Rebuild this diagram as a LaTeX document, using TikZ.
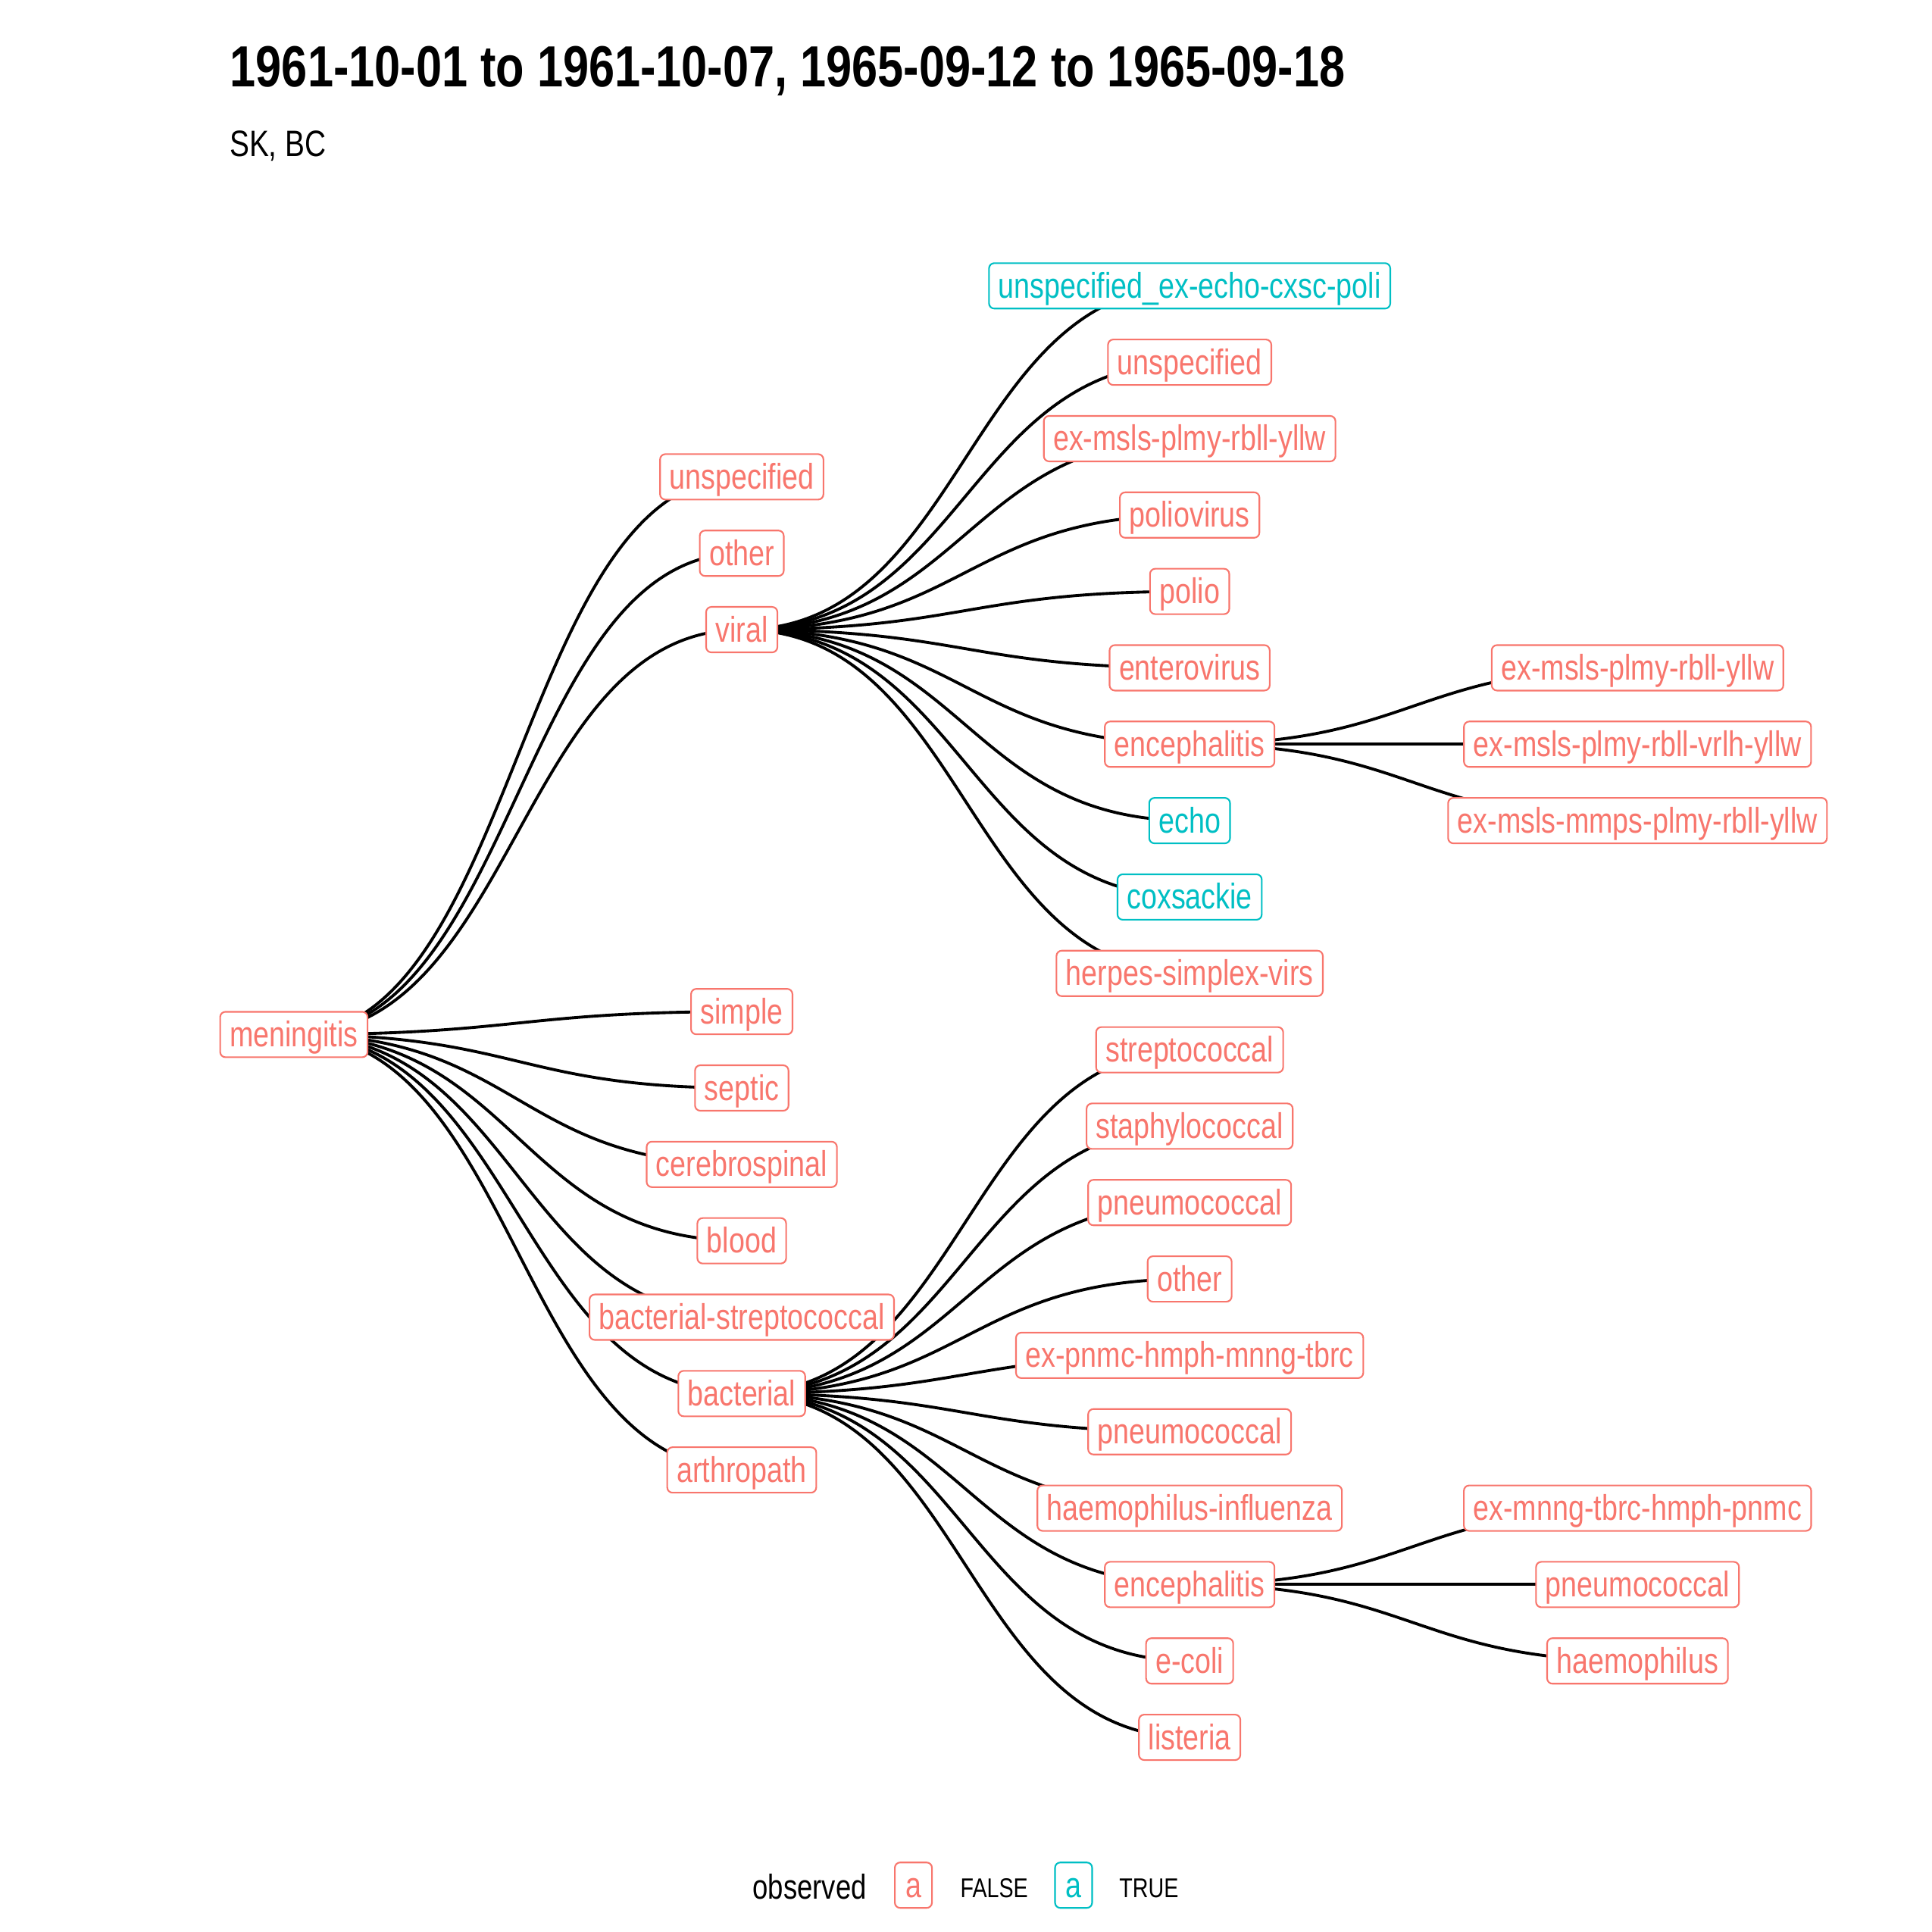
\documentclass[tikz,border=0pt]{standalone}
\usepackage{fontspec}
\setmainfont{Liberation Sans}[FakeStretch=0.8]
\usetikzlibrary{backgrounds}
\definecolor{falsecol}{HTML}{F8766D}
\definecolor{truecol}{HTML}{00BFC4}

\begin{document}
\begin{tikzpicture}[x=0.016263cm, y=-0.016263cm]

\tikzstyle{every node}=[font=\fontsize{13.4}{16}\selectfont]
\tikzstyle{lab}=[draw, fill=white, rounded corners=0.07cm, line width=0.6pt, inner xsep=0.125cm, inner ysep=0.12cm, text height=0.34cm, text depth=0.02cm]
\tikzstyle{falsebox}=[lab, draw=falsecol, text=falsecol]
\tikzstyle{truebox}=[lab, draw=truecol, text=truecol]
\tikzstyle{edge}=[line width=1.1pt, black]
\tikzstyle{plain}=[anchor=base west, inner sep=0pt]

\useasboundingbox (0,0) rectangle (1568,1568);

\node[plain, font=\fontsize{21.8}{26}\selectfont\bfseries] (title) at (186.4,70.7) {1961-10-01 to 1961-10-07, 1965-09-12 to 1965-09-18};
\node[plain, font=\fontsize{13.8}{16}\selectfont] (subtitle) at (186,127.1) {SK, BC};

\pgfmathsetmacro\xa{238.5}
\pgfmathsetmacro\xb{602}
\pgfmathsetmacro\xc{965.5}
\pgfmathsetmacro\xd{1329}

% root
\node[falsebox] (meningitis) at (\xa, 839.6) {meningitis};

% second level
\pgfmathsetmacro\y{387}
\node[falsebox] (unspecified) at (\xb, \y) {unspecified};
\pgfmathsetmacro\y{\y+62}
\node[falsebox] (other) at (\xb, \y) {other};
\pgfmathsetmacro\y{\y+62}
\node[falsebox] (viral) at (\xb, \y) {viral};

\pgfmathsetmacro\y{821}
\node[falsebox] (simple) at (\xb, \y) {simple};
\pgfmathsetmacro\y{\y+62}
\node[falsebox] (septic) at (\xb, \y) {septic};
\pgfmathsetmacro\y{\y+62}
\node[falsebox] (cerebrospinal) at (\xb, \y) {cerebrospinal};
\pgfmathsetmacro\y{\y+62}
\node[falsebox] (blood) at (\xb, \y) {blood};
\pgfmathsetmacro\y{\y+62}
\node[falsebox] (bact_strep) at (\xb, \y) {bacterial-streptococcal};
\pgfmathsetmacro\y{\y+62}
\node[falsebox] (bacterial) at (\xb, \y) {bacterial};
\pgfmathsetmacro\y{\y+62}
\node[falsebox] (arthropath) at (\xb, \y) {arthropath};

% third level, viral
\pgfmathsetmacro\y{232}
\node[truebox] (v_unspec_ex) at (\xc, \y) {unspecified\_ex-echo-cxsc-poli};
\pgfmathsetmacro\y{\y+62}
\node[falsebox] (v_unspec) at (\xc, \y) {unspecified};
\pgfmathsetmacro\y{\y+62}
\node[falsebox] (v_exmsls) at (\xc, \y) {ex-msls-plmy-rbll-yllw};
\pgfmathsetmacro\y{\y+62}
\node[falsebox] (v_poliovirus) at (\xc, \y) {poliovirus};
\pgfmathsetmacro\y{\y+62}
\node[falsebox] (v_polio) at (\xc, \y) {polio};
\pgfmathsetmacro\y{\y+62}
\node[falsebox] (v_entero) at (\xc, \y) {enterovirus};
\pgfmathsetmacro\y{\y+62}
\node[falsebox] (v_enceph) at (\xc, \y) {encephalitis};
\pgfmathsetmacro\y{\y+62}
\node[truebox] (v_echo) at (\xc, \y) {echo};
\pgfmathsetmacro\y{\y+62}
\node[truebox] (v_coxsackie) at (\xc, \y) {coxsackie};
\pgfmathsetmacro\y{\y+62}
\node[falsebox] (v_herpes) at (\xc, \y) {herpes-simplex-virs};

% third level, bacterial
\pgfmathsetmacro\y{\y+62}
\node[falsebox] (b_strep) at (\xc, \y) {streptococcal};
\pgfmathsetmacro\y{\y+62}
\node[falsebox] (b_staph) at (\xc, \y) {staphylococcal};
\pgfmathsetmacro\y{\y+62}
\node[falsebox] (b_pneumo1) at (\xc, \y) {pneumococcal};
\pgfmathsetmacro\y{\y+62}
\node[falsebox] (b_other) at (\xc, \y) {other};
\pgfmathsetmacro\y{\y+62}
\node[falsebox] (b_expnmc) at (\xc, \y) {ex-pnmc-hmph-mnng-tbrc};
\pgfmathsetmacro\y{\y+62}
\node[falsebox] (b_pneumo2) at (\xc, \y) {pneumococcal};
\pgfmathsetmacro\y{\y+62}
\node[falsebox] (b_haemo_inf) at (\xc, \y) {haemophilus-influenza};
\pgfmathsetmacro\y{\y+62}
\node[falsebox] (b_enceph) at (\xc, \y) {encephalitis};
\pgfmathsetmacro\y{\y+62}
\node[falsebox] (b_ecoli) at (\xc, \y) {e-coli};
\pgfmathsetmacro\y{\y+62}
\node[falsebox] (b_listeria) at (\xc, \y) {listeria};

% fourth level
\node[falsebox] (ve_plmy) at (\xd, 542) {ex-msls-plmy-rbll-yllw};
\node[falsebox] (ve_vrlh) at (\xd, 604) {ex-msls-plmy-rbll-vrlh-yllw};
\node[falsebox] (ve_mmps) at (\xd, 666) {ex-msls-mmps-plmy-rbll-yllw};

\node[falsebox] (be_mnng) at (\xd, 1224) {ex-mnng-tbrc-hmph-pnmc};
\node[falsebox] (be_pneumo) at (\xd, 1286) {pneumococcal};
\node[falsebox] (be_haemo) at (\xd, 1348) {haemophilus};

\begin{scope}[on background layer]
\draw[edge] (meningitis.center) .. controls +(181.75,0) and +(-181.75,0) .. (unspecified.center);
\draw[edge] (meningitis.center) .. controls +(181.75,0) and +(-181.75,0) .. (other.center);
\draw[edge] (meningitis.center) .. controls +(181.75,0) and +(-181.75,0) .. (viral.center);
\draw[edge] (meningitis.center) .. controls +(181.75,0) and +(-181.75,0) .. (simple.center);
\draw[edge] (meningitis.center) .. controls +(181.75,0) and +(-181.75,0) .. (septic.center);
\draw[edge] (meningitis.center) .. controls +(181.75,0) and +(-181.75,0) .. (cerebrospinal.center);
\draw[edge] (meningitis.center) .. controls +(181.75,0) and +(-181.75,0) .. (blood.center);
\draw[edge] (meningitis.center) .. controls +(181.75,0) and +(-181.75,0) .. (bact_strep.center);
\draw[edge] (meningitis.center) .. controls +(181.75,0) and +(-181.75,0) .. (bacterial.center);
\draw[edge] (meningitis.center) .. controls +(181.75,0) and +(-181.75,0) .. (arthropath.center);

\draw[edge] (viral.center) .. controls +(181.75,0) and +(-181.75,0) .. (v_unspec_ex.center);
\draw[edge] (viral.center) .. controls +(181.75,0) and +(-181.75,0) .. (v_unspec.center);
\draw[edge] (viral.center) .. controls +(181.75,0) and +(-181.75,0) .. (v_exmsls.center);
\draw[edge] (viral.center) .. controls +(181.75,0) and +(-181.75,0) .. (v_poliovirus.center);
\draw[edge] (viral.center) .. controls +(181.75,0) and +(-181.75,0) .. (v_polio.center);
\draw[edge] (viral.center) .. controls +(181.75,0) and +(-181.75,0) .. (v_entero.center);
\draw[edge] (viral.center) .. controls +(181.75,0) and +(-181.75,0) .. (v_enceph.center);
\draw[edge] (viral.center) .. controls +(181.75,0) and +(-181.75,0) .. (v_echo.center);
\draw[edge] (viral.center) .. controls +(181.75,0) and +(-181.75,0) .. (v_coxsackie.center);
\draw[edge] (viral.center) .. controls +(181.75,0) and +(-181.75,0) .. (v_herpes.center);

\draw[edge] (bacterial.center) .. controls +(181.75,0) and +(-181.75,0) .. (b_strep.center);
\draw[edge] (bacterial.center) .. controls +(181.75,0) and +(-181.75,0) .. (b_staph.center);
\draw[edge] (bacterial.center) .. controls +(181.75,0) and +(-181.75,0) .. (b_pneumo1.center);
\draw[edge] (bacterial.center) .. controls +(181.75,0) and +(-181.75,0) .. (b_other.center);
\draw[edge] (bacterial.center) .. controls +(181.75,0) and +(-181.75,0) .. (b_expnmc.center);
\draw[edge] (bacterial.center) .. controls +(181.75,0) and +(-181.75,0) .. (b_pneumo2.center);
\draw[edge] (bacterial.center) .. controls +(181.75,0) and +(-181.75,0) .. (b_haemo_inf.center);
\draw[edge] (bacterial.center) .. controls +(181.75,0) and +(-181.75,0) .. (b_enceph.center);
\draw[edge] (bacterial.center) .. controls +(181.75,0) and +(-181.75,0) .. (b_ecoli.center);
\draw[edge] (bacterial.center) .. controls +(181.75,0) and +(-181.75,0) .. (b_listeria.center);

\draw[edge] (v_enceph.center) .. controls +(181.75,0) and +(-181.75,0) .. (ve_plmy.center);
\draw[edge] (v_enceph.center) .. controls +(181.75,0) and +(-181.75,0) .. (ve_vrlh.center);
\draw[edge] (v_enceph.center) .. controls +(181.75,0) and +(-181.75,0) .. (ve_mmps.center);

\draw[edge] (b_enceph.center) .. controls +(181.75,0) and +(-181.75,0) .. (be_mnng.center);
\draw[edge] (b_enceph.center) .. controls +(181.75,0) and +(-181.75,0) .. (be_pneumo.center);
\draw[edge] (b_enceph.center) .. controls +(181.75,0) and +(-181.75,0) .. (be_haemo.center);
\end{scope}

% legend
\node[plain, font=\fontsize{13}{16}\selectfont] (legend_title) at (610.5,1541) {observed};
\node[falsebox, inner xsep=0pt, minimum width=0.49cm] (key_false) at (741.3,1530) {a};
\node[plain, font=\fontsize{10.2}{12}\selectfont] (legend_false) at (779,1540) {FALSE};
\node[truebox, inner xsep=0pt, minimum width=0.49cm] (key_true) at (871.3,1530) {a};
\node[plain, font=\fontsize{10.2}{12}\selectfont] (legend_true) at (908,1540) {TRUE};

\end{tikzpicture}
\end{document}
